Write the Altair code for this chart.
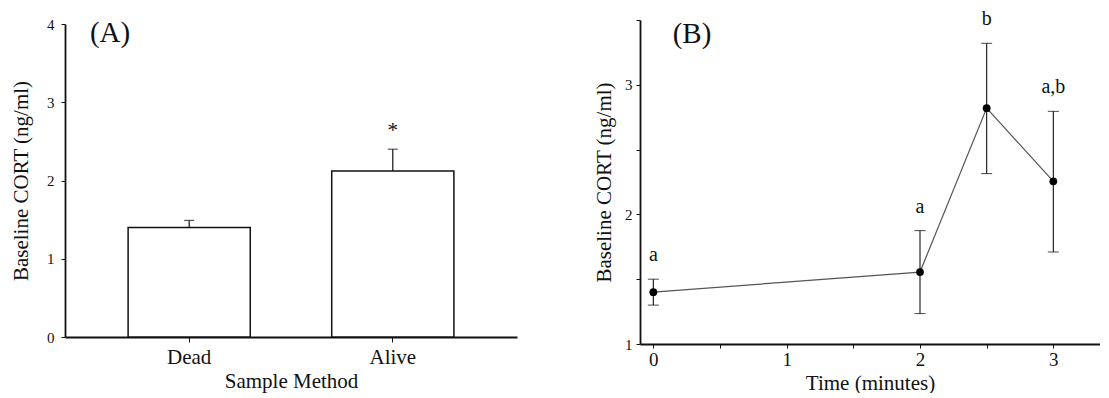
import altair as alt
import pandas as pd

# ---- Panel A data ----
methods = ["Dead", "Alive"]
means_a = [1.40, 2.12]
upper_a = [1.49, 2.40]
sig_a = ["", "*"]

# ---- Panel B data ----
times = [0, 2, 2.5, 3]
means_b = [1.40, 1.555, 2.82, 2.255]
lower_b = [1.30, 1.235, 2.315, 1.71]
upper_b = [1.50, 1.875, 3.32, 2.795]
letters_b = ["a", "a", "b", "a,b"]

FONT = "Liberation Serif"
INT_LABELS = "datum.value % 1 == 0 ? format(datum.value, 'd') : ''"

df_a = pd.DataFrame({"method": methods, "mean": means_a, "upper": upper_a, "sig": sig_a})
df_b = pd.DataFrame({"time": times, "mean": means_b, "lower": lower_b,
                     "upper": upper_b, "letter": letters_b})

# ---------------- Panel A ----------------
xa = alt.X("method:N", sort=methods, title="Sample Method",
           scale=alt.Scale(paddingInner=0.4, paddingOuter=0.31),
           axis=alt.Axis(labelAngle=0, labelFontSize=21, titleFontSize=21,
                         titleFont=FONT, titleFontWeight="normal",
                         tickSize=5, labelPadding=4, titlePadding=3))
ya_scale = alt.Scale(domain=[0, 4], range=[317, 4], nice=False, zero=True)
ya_axis = alt.Axis(values=[0, 1, 2, 3, 4], labelExpr=INT_LABELS, labelFontSize=15,
                   titleFontSize=21, titleFont=FONT, titleFontWeight="normal",
                   tickSize=4, labelPadding=7, titlePadding=15,
                   title="Baseline CORT (ng/ml)")

base_a = alt.Chart(df_a)
bars = base_a.mark_bar(fill="white", stroke="#111", strokeWidth=1.5).encode(
    x=xa, y=alt.Y("mean:Q", scale=ya_scale, axis=ya_axis))
err_a = base_a.mark_rule(color="#111", strokeWidth=1.2).encode(
    x=alt.X("method:N", sort=methods), y="mean:Q", y2="upper:Q")
cap_a = base_a.mark_tick(color="#111", size=10, thickness=1.2, orient="horizontal").encode(
    x=alt.X("method:N", sort=methods), y="upper:Q")
star_a = base_a.mark_text(font=FONT, fontSize=21, baseline="alphabetic", dy=-12, color="#111").encode(
    x=alt.X("method:N", sort=methods), y="upper:Q", text="sig:N")
label_a = alt.Chart(pd.DataFrame({"t": ["(A)"]})).mark_text(
    font=FONT, fontSize=29, baseline="middle", align="center", color="#111"
).encode(x=alt.value(45), y=alt.datum(3.88), text="t:N")

panel_a = alt.layer(bars, err_a, cap_a, star_a, label_a).properties(width=452, height=317)

# ---------------- Panel B ----------------
xb_scale = alt.Scale(domain=[-0.1, 3.35], nice=False, zero=False)
xb_axis = alt.Axis(values=[0, 0.5, 1, 1.5, 2, 2.5, 3], labelExpr=INT_LABELS,
                   labelFontSize=19, titleFontSize=21, titleFont=FONT,
                   titleFontWeight="normal", tickSize=4, labelPadding=2,
                   titlePadding=3, title="Time (minutes)")
yb_scale = alt.Scale(domain=[1, 3.5], nice=False, zero=False)
yb_axis = alt.Axis(values=[1, 1.5, 2, 2.5, 3, 3.5], labelExpr=INT_LABELS,
                   labelFontSize=15, titleFontSize=21, titleFont=FONT,
                   titleFontWeight="normal", tickSize=4, labelPadding=4,
                   titlePadding=10, title="Baseline CORT (ng/ml)")

base_b = alt.Chart(df_b)
line_b = base_b.mark_line(color="#555", strokeWidth=1.2).encode(
    x=alt.X("time:Q", scale=xb_scale, axis=xb_axis),
    y=alt.Y("mean:Q", scale=yb_scale, axis=yb_axis))
err_b = base_b.mark_rule(color="#111", strokeWidth=1.1).encode(
    x="time:Q", y="lower:Q", y2="upper:Q")
capl_b = base_b.mark_tick(color="#111", size=11, thickness=1.1, orient="horizontal").encode(
    x="time:Q", y="lower:Q")
capu_b = base_b.mark_tick(color="#111", size=11, thickness=1.1, orient="horizontal").encode(
    x="time:Q", y="upper:Q")
pts_b = base_b.mark_circle(color="black", opacity=1, size=60).encode(
    x="time:Q", y="mean:Q")
let_b = base_b.mark_text(font=FONT, fontSize=20, baseline="alphabetic", dy=-18, color="#111").encode(
    x="time:Q", y="upper:Q", text="letter:N")
label_b = alt.Chart(pd.DataFrame({"t": ["(B)"]})).mark_text(
    font=FONT, fontSize=29, baseline="middle", align="center", color="#111"
).encode(x=alt.datum(0.29), y=alt.datum(3.39), text="t:N")

panel_b = alt.layer(line_b, err_b, capl_b, capu_b, pts_b, let_b, label_b).properties(
    width=460, height=324)

chart = alt.hconcat(panel_a, panel_b, spacing=123, bounds="flush").properties(
    padding={"left": 2, "top": 1, "right": 0, "bottom": 0}
).configure_view(stroke=None).configure_axis(
    grid=False, domainColor="#111", domainWidth=1.8, tickColor="#111", tickWidth=1,
    labelColor="#111", titleColor="#111", labelFont=FONT, titleFont=FONT,
    titleFontWeight="normal"
).configure_text(font=FONT)

chart.save("out.html", embed_options={"renderer": "svg", "actions": False})
